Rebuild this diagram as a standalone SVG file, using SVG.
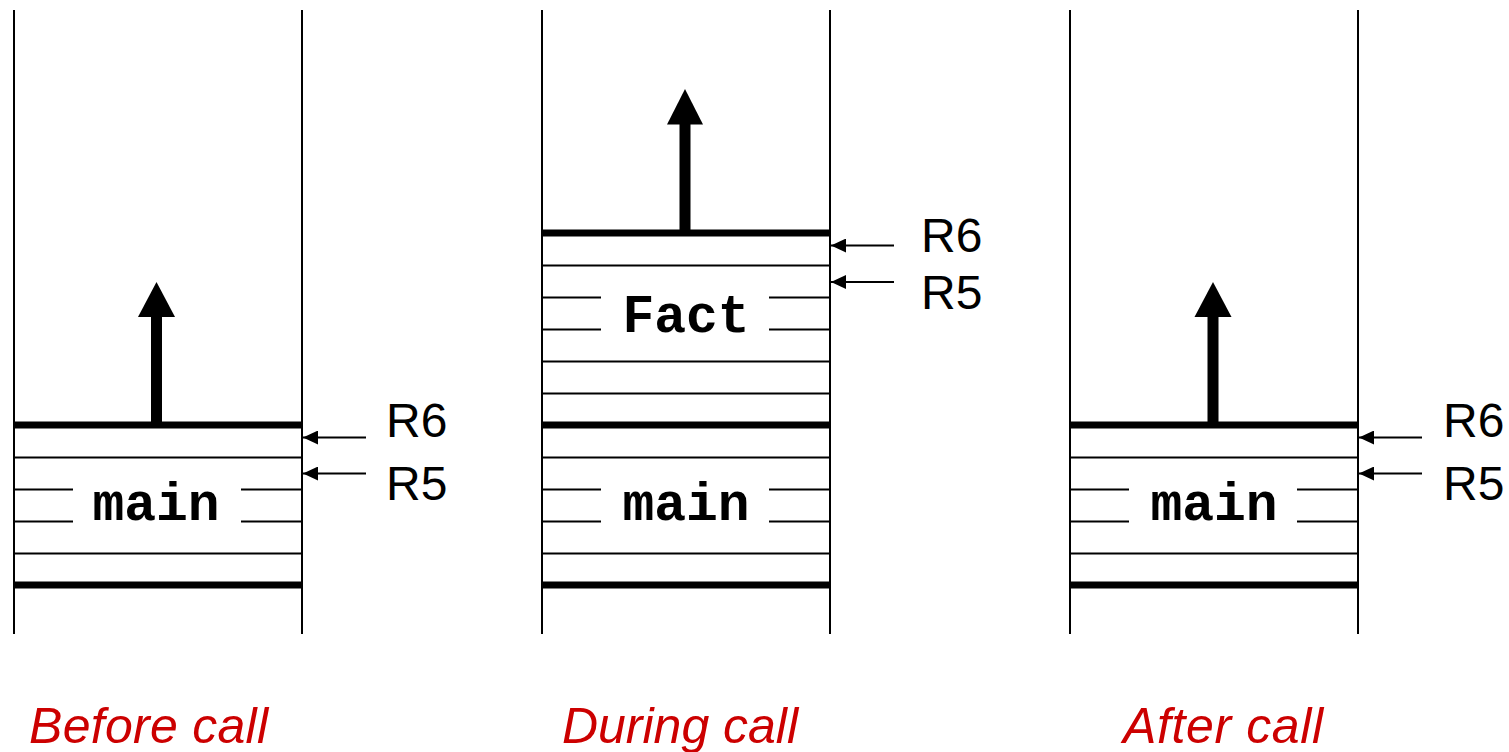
<svg xmlns="http://www.w3.org/2000/svg" width="1509" height="752" viewBox="0 0 1509 752">
  <defs>
    <style>
      .wall { stroke: #000; stroke-width: 2; }
      .thin { stroke: #000; stroke-width: 2; }
      .thick { stroke: #000; stroke-width: 7; }
      .stem { stroke: #000; stroke-width: 11; }
      .ptr { stroke: #000; stroke-width: 2; marker-end: url(#tip); }
      .frame { font-family: "Liberation Mono", "Courier New", monospace; font-weight: bold; font-size: 53px; text-anchor: middle; fill: #000; }
      .reg { font-family: "Liberation Sans", Arial, sans-serif; font-size: 48px; fill: #000; }
      .cap { font-family: "Liberation Sans", Arial, sans-serif; font-style: italic; font-size: 50px; fill: #cc0000; }
    </style>
    <marker id="tip" markerWidth="16" markerHeight="14" refX="15" refY="7" orient="auto" markerUnits="userSpaceOnUse">
      <path d="M0,0 L15,7 L0,14 Z" fill="#000"/>
    </marker>
  </defs>
  <rect width="1509" height="752" fill="#fff"/>

  <!-- Stack before the call -->
  <g id="stack-before">
    <line class="wall" x1="14" y1="10" x2="14" y2="634"/>
    <line class="wall" x1="302" y1="10" x2="302" y2="634"/>
    <line class="thick" x1="14" y1="425" x2="302" y2="425"/>
    <line class="thin" x1="14" y1="457.5" x2="302" y2="457.5"/>
    <line class="thin" x1="14" y1="489.5" x2="73" y2="489.5"/>
    <line class="thin" x1="241" y1="489.5" x2="302" y2="489.5"/>
    <line class="thin" x1="14" y1="521.5" x2="73" y2="521.5"/>
    <line class="thin" x1="241" y1="521.5" x2="302" y2="521.5"/>
    <line class="thin" x1="14" y1="553.5" x2="302" y2="553.5"/>
    <line class="thick" x1="14" y1="585" x2="302" y2="585"/>
    <text class="frame" x="156" y="520">main</text>
    <line class="stem" x1="156.5" y1="314" x2="156.5" y2="425"/>
    <polygon points="156.5,282 175,317 138,317" fill="#000"/>
    <text class="reg" x="386" y="437">R6</text>
    <text class="reg" x="386" y="500">R5</text>
  </g>

  <!-- Stack during the call -->
  <g id="stack-during">
    <line class="wall" x1="542" y1="10" x2="542" y2="634"/>
    <line class="wall" x1="830" y1="10" x2="830" y2="634"/>
    <line class="thick" x1="542" y1="233" x2="830" y2="233"/>
    <line class="thin" x1="542" y1="265.5" x2="830" y2="265.5"/>
    <line class="thin" x1="542" y1="297.5" x2="601" y2="297.5"/>
    <line class="thin" x1="769" y1="297.5" x2="830" y2="297.5"/>
    <line class="thin" x1="542" y1="329.5" x2="601" y2="329.5"/>
    <line class="thin" x1="769" y1="329.5" x2="830" y2="329.5"/>
    <line class="thin" x1="542" y1="361.5" x2="830" y2="361.5"/>
    <line class="thin" x1="542" y1="393.5" x2="830" y2="393.5"/>
    <line class="thick" x1="542" y1="425" x2="830" y2="425"/>
    <line class="thin" x1="542" y1="457.5" x2="830" y2="457.5"/>
    <line class="thin" x1="542" y1="489.5" x2="601" y2="489.5"/>
    <line class="thin" x1="769" y1="489.5" x2="830" y2="489.5"/>
    <line class="thin" x1="542" y1="521.5" x2="601" y2="521.5"/>
    <line class="thin" x1="769" y1="521.5" x2="830" y2="521.5"/>
    <line class="thin" x1="542" y1="553.5" x2="830" y2="553.5"/>
    <line class="thick" x1="542" y1="585" x2="830" y2="585"/>
    <text class="frame" x="686" y="332">Fact</text>
    <text class="frame" x="686" y="520">main</text>
    <line class="stem" x1="685" y1="122" x2="685" y2="233"/>
    <polygon points="685,89 703,124.5 667,124.5" fill="#000"/>
    <text class="reg" x="921" y="252">R6</text>
    <text class="reg" x="921" y="309">R5</text>
  </g>

  <!-- Stack after the call -->
  <g id="stack-after">
    <line class="wall" x1="1070" y1="10" x2="1070" y2="634"/>
    <line class="wall" x1="1358" y1="10" x2="1358" y2="634"/>
    <line class="thick" x1="1070" y1="425" x2="1358" y2="425"/>
    <line class="thin" x1="1070" y1="457.5" x2="1358" y2="457.5"/>
    <line class="thin" x1="1070" y1="489.5" x2="1129" y2="489.5"/>
    <line class="thin" x1="1297" y1="489.5" x2="1358" y2="489.5"/>
    <line class="thin" x1="1070" y1="521.5" x2="1129" y2="521.5"/>
    <line class="thin" x1="1297" y1="521.5" x2="1358" y2="521.5"/>
    <line class="thin" x1="1070" y1="553.5" x2="1358" y2="553.5"/>
    <line class="thick" x1="1070" y1="585" x2="1358" y2="585"/>
    <text class="frame" x="1214" y="520">main</text>
    <line class="stem" x1="1213" y1="314" x2="1213" y2="425"/>
    <polygon points="1213,282 1231.5,317 1194.5,317" fill="#000"/>
    <text class="reg" x="1443" y="437">R6</text>
    <text class="reg" x="1443" y="500">R5</text>
  </g>

  <!-- Register pointers -->
  <g id="pointers">
    <line class="ptr" x1="366" y1="437.5" x2="303" y2="437.5"/>
    <line class="ptr" x1="366" y1="473.5" x2="303" y2="473.5"/>
    <line class="ptr" x1="894" y1="245.5" x2="831" y2="245.5"/>
    <line class="ptr" x1="894" y1="282" x2="831" y2="282"/>
    <line class="ptr" x1="1422" y1="437.5" x2="1359" y2="437.5"/>
    <line class="ptr" x1="1422" y1="473.5" x2="1359" y2="473.5"/>
  </g>

  <!-- Captions -->
  <g id="captions">
    <text class="cap" x="29" y="743" textLength="239" lengthAdjust="spacing">Before call</text>
    <text class="cap" x="562" y="743" textLength="236" lengthAdjust="spacing">During call</text>
    <text class="cap" x="1123" y="743" textLength="200" lengthAdjust="spacing">After call</text>
  </g>
</svg>
